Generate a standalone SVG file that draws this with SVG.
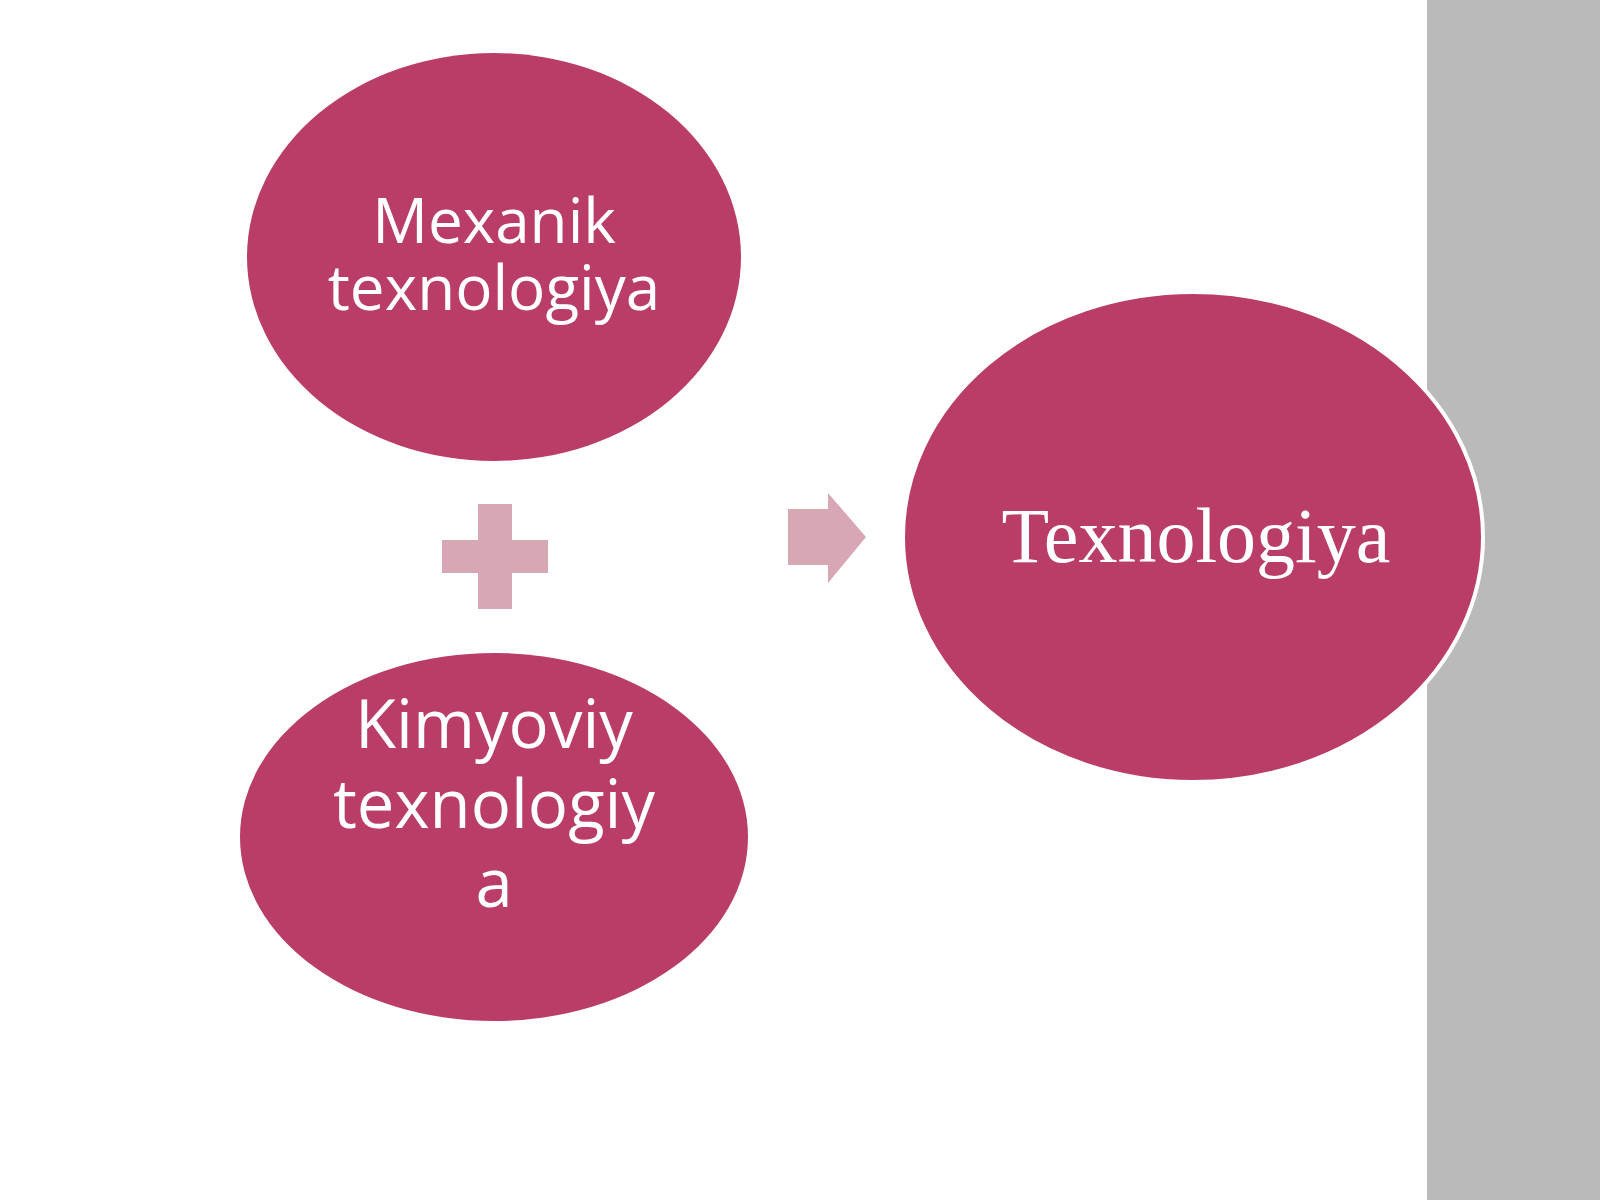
<svg xmlns="http://www.w3.org/2000/svg" width="1600" height="1200" viewBox="0 0 1600 1200">
<style>
.node{fill:#b93d66}
.sans{font-family:"Open Sans","Noto Sans","Liberation Sans",sans-serif;fill:#ffffff;text-anchor:middle}
.serif{font-family:"Liberation Serif","DejaVu Serif",serif;fill:#ffffff;text-anchor:middle}
.sym{fill:#d8a7b4}
</style>
<rect x="0" y="0" width="1600" height="1200" fill="#ffffff"/>
<rect id="panel" x="1427" y="0" width="173" height="1200" fill="#bababa"/>
<g id="connectors">
<path id="plus" class="sym" d="M478,504 H512 V540 H548 V573 H512 V609 H478 V573 H442 V540 H478 Z"/>
<path id="arrow" class="sym" d="M788,509 H828 V493 L866,537 L828,583 V565 H788 Z"/>
</g>
<g id="node-mexanik">
<ellipse class="node" cx="494" cy="257" rx="247" ry="204"/>
<text class="sans" font-size="62" x="494" y="243">Mexanik</text>
<text class="sans" font-size="62" x="494" y="310">texnologiya</text>
</g>
<g id="node-kimyoviy">
<ellipse class="node" cx="494" cy="837" rx="254" ry="184"/>
<text class="sans" font-size="67" x="494" y="748">Kimyoviy</text>
<text class="sans" font-size="67" x="494" y="828">texnologiy</text>
<text class="sans" font-size="67" x="494" y="907">a</text>
</g>
<g id="node-texnologiya">
<ellipse class="node" cx="1193" cy="537" rx="290" ry="245" stroke="#ffffff" stroke-width="4"/>
<text class="serif" font-size="78" x="1196" y="562">Texnologiya</text>
</g>
</svg>
